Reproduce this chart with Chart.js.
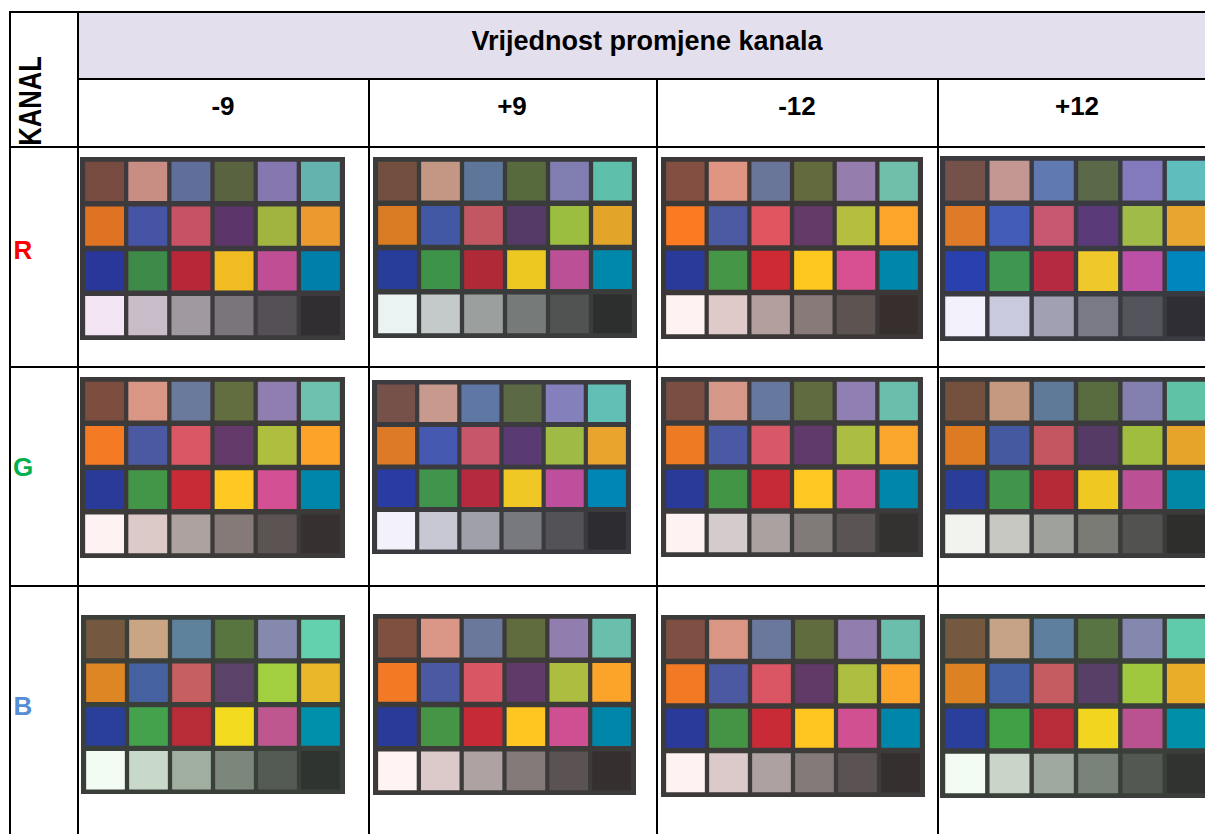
<!DOCTYPE html>
<html>
<head>
<meta charset="utf-8">
<script src="https://cdn.jsdelivr.net/npm/chart.js@4.4.1/dist/chart.umd.min.js"></script>
<style>
html, body { margin: 0; padding: 0; background: #fff; overflow: hidden; }
#page { position: relative; width: 1205px; height: 834px; overflow: hidden;
        font-family: "Liberation Sans", Arial, sans-serif; font-weight: bold; }
.ln { position: absolute; background: #000; }
.lbl { position: absolute; width: 0; height: 0; }
.lbl span { position: absolute; left: 0; top: 0; white-space: nowrap; line-height: 1;
            transform: translate(-50%, -50%); }
canvas.chk { position: absolute; }
</style>
</head>
<body>
<div id="page"></div>
<script>
// table text
var title = 'Vrijednost promjene kanala';
var sideTitle = 'KANAL';
var channels = ['R', 'G', 'B'];
var shifts = ['-9', '+9', '-12', '+12'];

// color checker patches: 6 columns x 4 rows, read row by row
var patchCols = ['1', '2', '3', '4', '5', '6'];
var patchRows = ['a', 'b', 'c', 'd'];

var R_m9 = ['#774B40','#C98E83','#5F6E9A','#5A6340','#8777B1','#64B3AE',
            '#DF7322','#4554A4','#C85265','#5C366A','#A2B440','#EA9A2F',
            '#2A379A','#3E8A48','#B72737','#F1BC22','#C04E95','#007FAA',
            '#F3E5F3','#C9BDCA','#A09AA0','#7A757B','#545056','#302E31'];
var R_p9 = ['#734F40','#C49784','#5D769A','#566A3E','#807EB0','#5EBFAA',
            '#D97B22','#4258A4','#C25762','#553A68','#9BBD40','#E2A52A',
            '#283D9A','#3D9448','#B02936','#EBC920','#BB5096','#0088AA',
            '#EBF2F2','#C4C9C9','#9BA09F','#767B7A','#515352','#2D2E2E'];
var R_m12 = ['#824F40','#E09583','#6A759A','#636A3E','#957DAE','#70BFAA',
             '#FC7A22','#4B5AA2','#E05560','#643A68','#B6BE40','#FDA52A',
             '#2A3A9A','#459646','#CE2A34','#FFC820','#D85092','#0086A8',
             '#FFF2F2','#E0CAC9','#B39F9E','#877A79','#5D5452','#372F2E'];
var R_p12 = ['#74524A','#C59792','#6079B0','#5A6A48','#837ABE','#5FBDBE',
             '#DE7A28','#425CB8','#C75670','#5A3A78','#A0BB48','#E8A530',
             '#2A40AE','#3F9650','#B52A40','#EFC82A','#BB50A6','#0086BF',
             '#F3F2FC','#C9CADD','#A1A0B2','#7A7A87','#53545C','#2E2E34'];

var G_m9 = ['#7D4E40','#DA9684','#6A7A9D','#626E3F','#917EB0','#6EC2AD',
            '#F47A24','#4A59A2','#DA5765','#633A6A','#B0BE40','#FDA32A',
            '#2A3A98','#439648','#C82A36','#FFC822','#D35094','#0086AA',
            '#FFF2F2','#DCCAC9','#AEA2A1','#857A78','#5C5453','#363130'];
var G_p9 = ['#76514A','#C79A8D','#5F77A5','#5B6A45','#8480BB','#62BFB5',
            '#DD7A26','#4559B0','#C8566A','#5A3A72','#A0BB45','#E8A42D',
            '#2A3BA4','#40944C','#B52A3C','#EFC825','#BD4F9C','#0086B5',
            '#F3F2FB','#C8C8D4','#A0A0AA','#78797F','#525257','#2D2D31'];
var G_m12 = ['#7A4E42','#D59888','#67789E','#606C40','#8F7FB2','#6ABFAC',
             '#EE7A24','#4A59A4','#D85868','#5F3A6A','#ACBE42','#FAA52C',
             '#2A3A99','#439546','#C62A36','#FFC822','#CD5295','#0086A8',
             '#FFF2F2','#D4CCCC','#A9A2A1','#807A79','#5A5554','#343131'];
var G_p12 = ['#74513F','#C49980','#5E7A98','#576B3E','#837FAF','#5FC1A5',
             '#DC7B22','#4559A0','#C45660','#563A66','#A0BD3E','#E7A42A',
             '#2A3D98','#40954A','#B52A36','#EFC921','#BB5095','#0088A6',
             '#F2F2EE','#C8C8C2','#9FA19C','#797B74','#525350','#2E2F2D'];

var B_m9 = ['#745840','#C9A584','#5E829C','#587540','#8589AE','#63D1AE',
            '#DE8524','#4661A0','#C55F62','#5A4269','#A2CF40','#EAB62A',
            '#2A3F9A','#43A24B','#B82C37','#F2DA1F','#BE5790','#0090AB',
            '#F2FCF2','#C9D9C9','#A0AEA0','#7A877A','#545B54','#303430'];
var B_p9 = ['#7F5040','#DA9686','#6A789C','#606C3E','#917DAE','#6ABFAC',
            '#F27A24','#4A59A2','#D95664','#603A68','#ADBD40','#FCA32A',
            '#2A3A98','#469446','#C62A36','#FFC622','#CE5092','#0086A8',
            '#FFF3F3','#DCC9C9','#AEA2A2','#857A7A','#5B5353','#352F2F'];
var B_m12 = ['#7E4F42','#D99685','#6A789D','#616C3E','#917EAF','#6BBEAC',
             '#F27A24','#4A59A2','#DA5664','#613A68','#ADBE40','#FCA42A',
             '#2A3A9A','#459446','#C82A36','#FFC622','#D15092','#0086A8',
             '#FFF2F2','#DCCACA','#ADA2A1','#847A79','#5B5353','#352F2F'];
var B_p12 = ['#745840','#C6A286','#5E809E','#587442','#8588AE','#60CBAA',
             '#DC8222','#4460A4','#C45C62','#583F68','#A0C83E','#E9AD2A',
             '#2A3F9C','#40A046','#B72C38','#F2D51F','#BB5290','#008FA8',
             '#F2FCF2','#C9D5C9','#A0A9A0','#7A837A','#535853','#303330'];

var checkers = [
  [R_m9, R_p9, R_m12, R_p12],
  [G_m9, G_p9, G_m12, G_p12],
  [B_m9, B_p9, B_m12, B_p12]
];

// ---- layout / styles ----
var frameColors = [
  ['#3C3A3D', '#3A3B3B', '#3D3838', '#3A3B40'],
  ['#3D3A3A', '#3B3B3F', '#3C3A3A', '#3A3B3A'],
  ['#3A3F3A', '#3D3A3A', '#3D3A3A', '#3A3F3A']
];
// x, y, w, h of each checker frame
var boxes = [
  [[80, 157, 265, 183], [373, 157, 264, 181], [661, 157, 262, 182], [940, 156, 272, 185]],
  [[80, 377, 265, 181], [372, 380, 259, 174], [661, 377, 262, 180], [940, 377, 272, 181]],
  [[81, 615, 264, 179], [373, 614, 263, 181], [661, 615, 264, 182], [940, 614, 272, 184]]
];
var channelColors = ['#FF0000', '#00B050', '#558ED5'];

var page = document.getElementById('page');

function addDiv(cls, css) {
  var d = document.createElement('div');
  d.className = cls;
  for (var k in css) d.style[k] = css[k];
  page.appendChild(d);
  return d;
}

function addLabel(text, x, y, size, color, extra) {
  var d = addDiv('lbl', { left: x + 'px', top: y + 'px' });
  var s = document.createElement('span');
  s.textContent = text;
  s.style.fontSize = size + 'px';
  s.style.color = color || '#000';
  if (extra) s.style.transform = 'translate(-50%, -50%) ' + extra;
  d.appendChild(s);
}

// header background
addDiv('', { position: 'absolute', left: '79px', top: '13px', width: '1126px', height: '65px', background: '#E4DFEC' });

// grid lines
[[11, 9], [78, 77], [146, 9], [366, 9], [585, 9]].forEach(function(h) {
  addDiv('ln', { left: h[1] + 'px', top: h[0] + 'px', width: (1205 - h[1]) + 'px', height: '2px' });
});
[[9, 11], [77, 11], [368, 78], [656, 78], [937, 78]].forEach(function(v) {
  addDiv('ln', { left: v[0] + 'px', top: v[1] + 'px', width: '2px', height: (834 - v[1]) + 'px' });
});

// texts
addLabel(title, 647, 41, 27, '#000');
addLabel(sideTitle, 30, 101, 32, '#000', 'rotate(-90deg) scaleX(0.8)');
var shiftX = [223, 512, 797, 1077];
shifts.forEach(function(s, i) { addLabel(s, shiftX[i], 106, 26, '#000'); });
var chanY = [250, 467, 706];
channels.forEach(function(c, i) { addLabel(c, 23, chanY[i], 26, channelColors[i]); });

// checkers
checkers.forEach(function(row, ri) {
  row.forEach(function(colors, ci) {
    var b = boxes[ri][ci];
    var cv = document.createElement('canvas');
    cv.className = 'chk';
    cv.width = b[2];
    cv.height = b[3];
    cv.style.left = b[0] + 'px';
    cv.style.top = b[1] + 'px';
    cv.style.background = frameColors[ri][ci];
    page.appendChild(cv);

    new Chart(cv, {
      type: 'bar',
      data: {
        labels: patchCols,
        datasets: patchRows.map(function(name, r) {
          return {
            label: name,
            data: patchCols.map(function() { return [r + 0.06, r + 0.94]; }),
            backgroundColor: colors.slice(r * 6, r * 6 + 6),
            borderWidth: 0,
            grouped: false,
            categoryPercentage: 1,
            barPercentage: 0.9
          };
        })
      },
      options: {
        responsive: false,
        animation: false,
        events: [],
        layout: { padding: { left: 3, right: 3, top: 2, bottom: 2 } },
        plugins: { legend: { display: false }, tooltip: { enabled: false } },
        scales: {
          x: { display: false },
          y: { display: false, min: 0, max: 4, reverse: true }
        }
      }
    });
  });
});
</script>
</body>
</html>
